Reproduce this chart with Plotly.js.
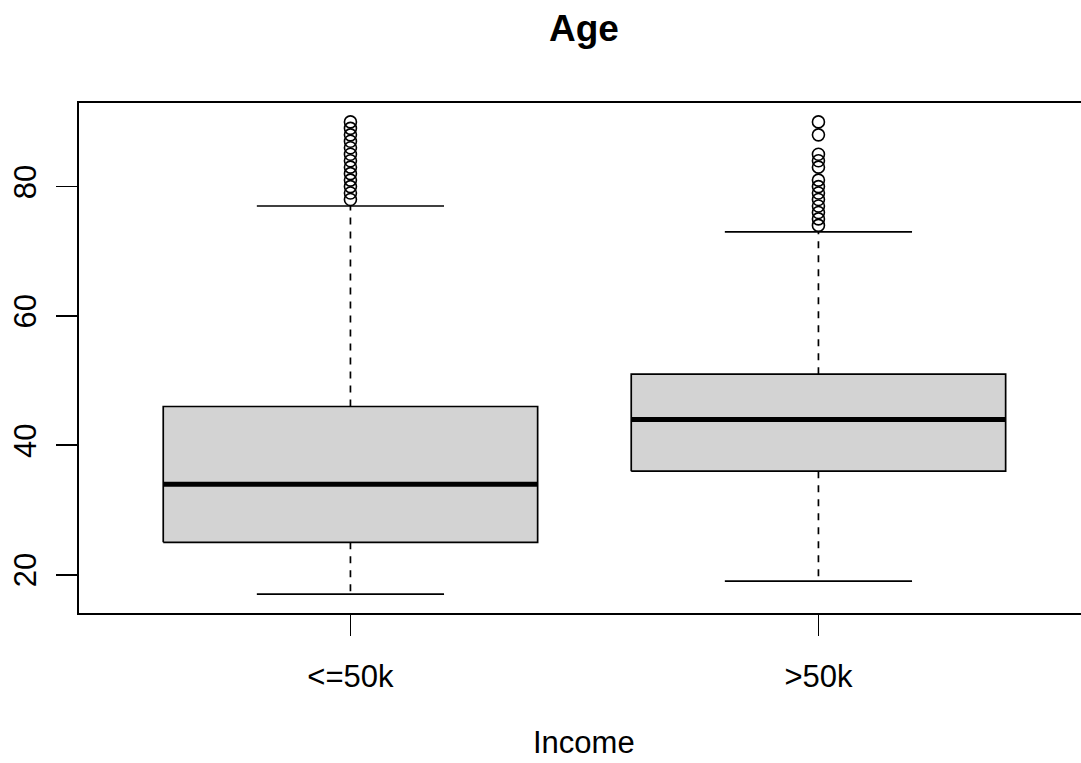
<!DOCTYPE html>
<html>
<head>
<meta charset="utf-8">
<script src="https://cdn.plot.ly/plotly-3.0.1.min.js"></script>
<style>
  html, body { margin: 0; padding: 0; background: #fff; }
  #chart { width: 1081px; height: 763px; }
</style>
</head>
<body>
<div id="chart"></div>
<script>
// Age by income group: five-number summaries plus the points beyond the whiskers
const categories = ['<=50k', '>50k'];
const positions = [1, 2];
const lowerWhisker = [17, 19];
const q1 = [25, 36];
const median = [34, 44];
const q3 = [46, 51];
const upperWhisker = [77, 73];
const outliersLow = [78, 79, 80, 81, 82, 83, 84, 85, 86, 87, 88, 89, 90];
const outliersHigh = [74, 75, 76, 77, 78, 79, 80, 81, 83, 84, 85, 88, 90];
const outliers = [outliersLow, outliersHigh];

const boxHalf = 0.4;     // half box width in category units
const stapleHalf = 0.2;  // half staple width
const lw = 1.7;

const traces = [];
positions.forEach((p, i) => {
  // box body
  traces.push({
    type: 'scatter', mode: 'lines', hoverinfo: 'skip', showlegend: false,
    x: [p - boxHalf, p + boxHalf, p + boxHalf, p - boxHalf, p - boxHalf],
    y: [q1[i], q1[i], q3[i], q3[i], q1[i]],
    fill: 'toself', fillcolor: '#D3D3D3',
    line: { color: '#000', width: lw }
  });
  // median
  traces.push({
    type: 'scatter', mode: 'lines', hoverinfo: 'skip', showlegend: false,
    x: [p - boxHalf, p + boxHalf], y: [median[i], median[i]],
    line: { color: '#000', width: 5 }
  });
  // whiskers (dashed)
  traces.push({
    type: 'scatter', mode: 'lines', hoverinfo: 'skip', showlegend: false,
    x: [p, p, null, p, p],
    y: [q3[i], upperWhisker[i], null, q1[i], lowerWhisker[i]],
    line: { color: '#000', width: lw, dash: '7px,7px' }
  });
  // staples
  traces.push({
    type: 'scatter', mode: 'lines', hoverinfo: 'skip', showlegend: false,
    x: [p - stapleHalf, p + stapleHalf, null, p - stapleHalf, p + stapleHalf],
    y: [upperWhisker[i], upperWhisker[i], null, lowerWhisker[i], lowerWhisker[i]],
    line: { color: '#000', width: lw }
  });
  // outlying points
  traces.push({
    type: 'scatter', mode: 'markers', showlegend: false,
    x: outliers[i].map(() => p), y: outliers[i],
    marker: { symbol: 'circle-open', size: 12, color: '#000', line: { width: 1.6, color: '#000' } }
  });
});

const font = 'Liberation Sans, Arial, Helvetica, sans-serif';
const layout = {
  width: 1081, height: 763,
  paper_bgcolor: '#fff', plot_bgcolor: '#fff',
  margin: { l: 79, r: 0, t: 103, b: 150, pad: 0 },
  showlegend: false,
  title: {
    text: '<b>Age</b>',
    font: { family: font, size: 37, color: '#000' },
    x: 0.504, xref: 'paper', xanchor: 'center',
    y: 1 - 28 / 763, yref: 'container', yanchor: 'middle'
  },
  xaxis: {
    range: [0.42, 0.42 + 1002 / 468],
    tickvals: positions, ticktext: categories,
    showgrid: false, zeroline: false,
    showline: true, mirror: true, linecolor: '#000', linewidth: lw,
    ticks: 'outside', ticklen: 21, tickwidth: lw, tickcolor: '#000',
    ticklabelstandoff: 14,
    tickfont: { family: font, size: 31, color: '#000' }
  },
  yaxis: {
    range: [14.08, 92.92],
    tickvals: [20, 40, 60, 80],
    tickangle: -90,
    showgrid: false, zeroline: false,
    showline: true, linecolor: '#000', linewidth: lw,
    ticks: 'outside', ticklen: 21, tickwidth: lw, tickcolor: '#000',
    ticklabelstandoff: 8,
    tickfont: { family: font, size: 31, color: '#000' }
  },
  annotations: [{
    text: 'Income', showarrow: false,
    xref: 'x', yref: 'paper', x: 1.5, y: 0,
    xanchor: 'center', yanchor: 'middle', yshift: -129,
    font: { family: font, size: 31, color: '#000' }
  }]
};

Plotly.newPlot('chart', traces, layout, { staticPlot: true, displayModeBar: false });
</script>
</body>
</html>
